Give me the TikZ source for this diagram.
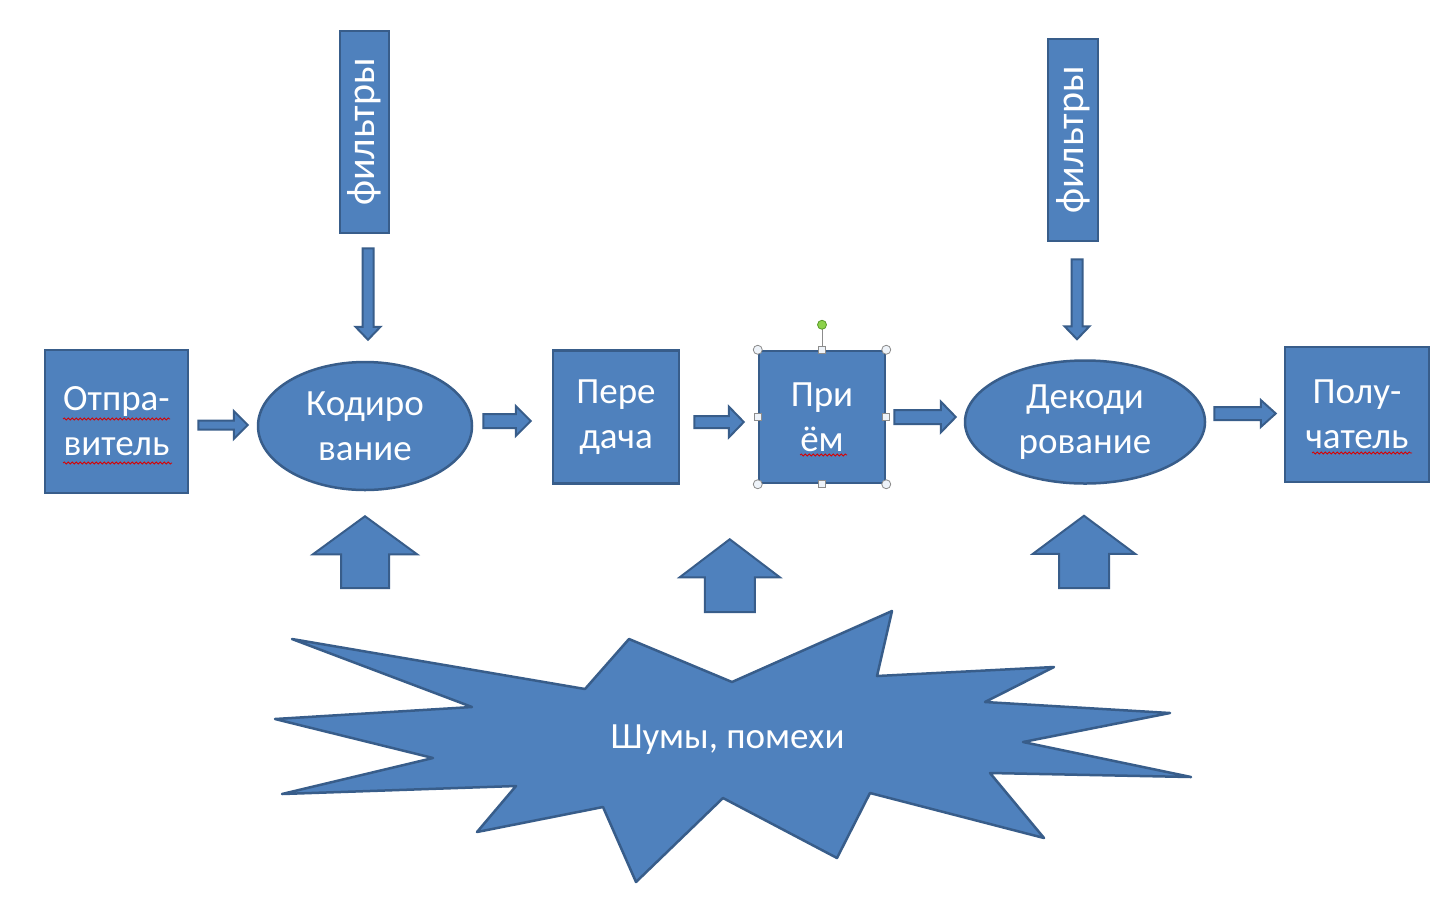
\documentclass[tikz,border=0pt]{standalone}
\usepackage{fontspec}
\setmainfont{Carlito}
\usetikzlibrary{calc,shapes.geometric,decorations.pathmorphing}
\definecolor{ofill}{HTML}{4F81BD}
\definecolor{oline}{HTML}{385D8A}
\definecolor{hgreen}{HTML}{8CD24A}
\definecolor{hgreenline}{HTML}{5A9A2A}
\definecolor{hgrey}{HTML}{8C8C8C}
\definecolor{hfill}{HTML}{EEF3F9}
\tikzset{
  box/.style={draw=oline, fill=ofill, line width=2.5pt, rectangle, text=white, align=center, inner sep=0pt,
              font=\fontsize{37}{45}\selectfont},
  oval/.style={draw=oline, fill=ofill, line width=2.5pt, ellipse, text=white, align=center, inner sep=0pt,
              font=\fontsize{37}{45}\selectfont},
  filt/.style={box, font=\fontsize{40}{45}\selectfont},
  barrow/.style={draw=oline, fill=ofill, line width=2pt, line join=miter},
  spell/.style={draw=red!85!black, line width=0.8pt, decorate, decoration={snake, segment length=4pt, amplitude=1pt}},
  handle/.style={draw=hgrey, fill=hfill, line width=0.8pt},
}
\newcommand\rarrow[5]{%
  \draw[barrow] let \p1=(#1), \p2=(#2) in
   (\x1,{\y2+#3}) -- ({\x2-#5},{\y2+#3}) -- ({\x2-#5},{\y2+#4}) -- (\x2,\y2) --
   ({\x2-#5},{\y2-#4}) -- ({\x2-#5},{\y2-#3}) -- (\x1,{\y2-#3}) -- cycle;}
\newcommand\darrow[5]{%
  \draw[barrow] let \p1=(#1), \p2=(#2) in
   ({\x2-#3},\y1) -- ({\x2-#3},{\y2+#5}) -- ({\x2-#4},{\y2+#5}) -- (\x2,\y2) --
   ({\x2+#4},{\y2+#5}) -- ({\x2+#3},{\y2+#5}) -- ({\x2+#3},\y1) -- cycle;}
\newcommand\uarrow[5]{%
  \draw[barrow] let \p1=(#1), \p2=(#2) in
   ({\x2-#3},\y1) -- ({\x2-#3},{\y2-#5}) -- ({\x2-#4},{\y2-#5}) -- (\x2,\y2) --
   ({\x2+#4},{\y2-#5}) -- ({\x2+#3},{\y2-#5}) -- ({\x2+#3},\y1) -- cycle;}
\begin{document}
\begin{tikzpicture}[x=1pt,y=-1pt]
\useasboundingbox[fill=white] (0,0) rectangle (1448,906);

% main chain
\node[box, minimum width=143, minimum height=143] (send) at (116.5,421.5) {Отпра-\\витель};
\node[oval, minimum width=214, minimum height=128] (enc) at (365,426) {Кодиро\\вание};
\node[box, minimum width=126, minimum height=133] (trans) at (616,417) {Пере\\дача};
\node[box, minimum width=126, minimum height=132] (recv) at (822,417) {При\\ём};
\node[oval, minimum width=240, minimum height=123] (dec) at (1085,422) {Декоди\\рование};
\node[box, minimum width=144, minimum height=135] (rcv2) at (1357,414.5) {Полу-\\чатель};

% filters
\node[filt, minimum width=49, minimum height=202] (f1) at (364.5,132) {\rotatebox{90}{фильтры}};
\node[filt, minimum width=50, minimum height=202] (f2) at (1073,140) {\rotatebox{90}{фильтры}};

% horizontal block arrows
\rarrow{$(send.east)+(9,0)$}{$(enc.west)+(-9,-1)$}{4.5pt}{14pt}{14pt}
\rarrow{$(enc.east)+(10,0)$}{$(trans.west)+(-21,4)$}{7pt}{15pt}{15pt}
\rarrow{$(trans.east)+(14,0)$}{$(recv.west)+(-14,5)$}{6pt}{15.5pt}{15pt}
\rarrow{$(recv.east)+(8,0)$}{$(dec.west)+(-8,-5)$}{7pt}{15.5pt}{15pt}
\rarrow{$(dec.east)+(8,0)$}{$(rcv2.west)+(-8,-1)$}{6.5pt}{13.5pt}{15pt}

% down arrows from filters
\darrow{$(f1.south)+(3.5,14)$}{$(enc.north)+(3,-21)$}{5.5pt}{12.5pt}{13pt}
\darrow{$(f2.south)+(4,17)$}{$(dec.north)+(-8,-20)$}{5.5pt}{12.5pt}{13pt}

% noise star
\draw[barrow, line width=2.5pt, line join=round]
 (292,639) -- (585,689) -- (629,639) -- (732,682) -- (892,611) -- (877,676) --
 (1054,667) -- (985,702) -- (1170,713) -- (1023,742) -- (1191,777) -- (990,773) --
 (1044,838) -- (870,793) -- (837,858) -- (723,798) -- (636,882) -- (603,807) --
 (477,832) -- (516,786) -- (282,794) -- (433,758) -- (275,719) -- (472,707) -- cycle;
\node[text=white, font=\fontsize{37}{42}\selectfont] (noise) at (727.5,740) {Шумы, помехи};

% up arrows from noise
\coordinate (nb1) at (365,588);
\coordinate (nb2) at (731,612);
\coordinate (nb3) at (1084,588);
\uarrow{nb1}{$(enc.south)+(0,25)$}{24pt}{52pt}{38pt}
\uarrow{nb2}{$(recv.south west)+(-28,55)$}{25pt}{50pt}{38pt}
\uarrow{nb3}{$(dec.south)+(-1,31)$}{25pt}{51pt}{38pt}

% spell-check underlines
\draw[spell] (63,419) -- (170,419);
\draw[spell] (63,463) -- (172,463);
\draw[spell] (800,455) -- (847,455);
\draw[spell] (1312,453) -- (1412,453);

% selection handles on recv
\draw[hgrey, line width=0.8pt] (recv.north) -- ++(0,-25) coordinate (rot);
\foreach \a in {north west, north east, south west, south east}
  \draw[handle] (recv.\a) circle[radius=4.5];
\foreach \a in {north, south, east, west}
  \draw[handle] ($(recv.\a)+(-3.5,-3.5)$) rectangle ++(7,7);
\draw[draw=hgreenline, fill=hgreen, line width=0.8pt] (rot) circle[radius=4.5];
\end{tikzpicture}
\end{document}
